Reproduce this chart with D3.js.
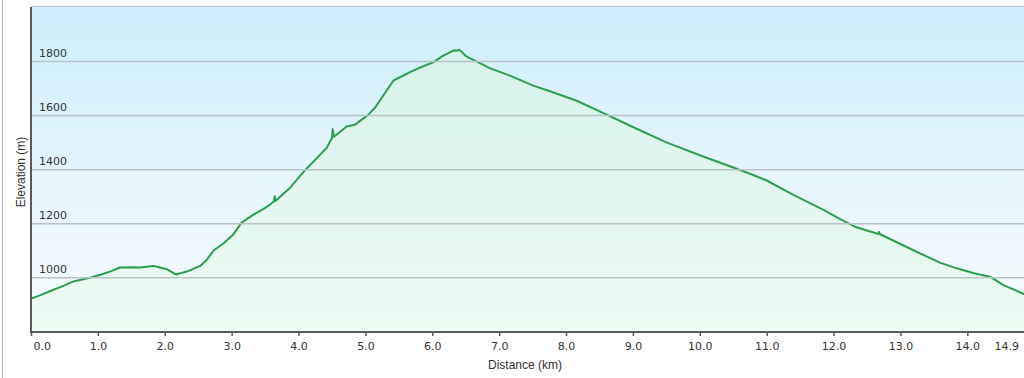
<!DOCTYPE html>
<html><head><meta charset="utf-8">
<script src="https://cdn.jsdelivr.net/npm/d3@7/dist/d3.min.js"></script>
<style>html,body{margin:0;padding:0;background:#fff;}svg{display:block;}</style>
</head><body>
<script>
const distanceKm = [0.00,0.15,0.30,0.48,0.63,0.88,1.05,1.18,1.33,1.50,1.63,1.83,1.93,2.03,2.17,2.33,2.53,2.63,2.73,2.88,3.02,3.15,3.32,3.47,3.57,3.63,3.645,3.655,3.87,4.10,4.32,4.42,4.50,4.51,4.53,4.72,4.84,5.04,5.14,5.29,5.42,5.69,5.84,6.02,6.15,6.27,6.33,6.37,6.40,6.43,6.51,6.86,7.16,7.51,7.76,8.16,8.56,9.00,9.50,10.05,10.50,10.75,11.00,11.40,11.85,12.10,12.32,12.67,12.68,12.69,13.10,13.59,13.84,14.10,14.34,14.54,14.90];
const elevationM = [920,935,950,968,984,998,1010,1021,1036,1037,1036,1042,1036,1030,1010,1021,1042,1065,1099,1126,1157,1202,1231,1252,1268,1280,1300,1282,1330,1397,1453,1478,1515,1548,1520,1558,1564,1601,1626,1681,1728,1762,1778,1796,1818,1833,1840,1838,1842,1836,1817,1774,1746,1709,1688,1653,1607,1556,1499,1447,1406,1383,1358,1305,1249,1215,1187,1160,1168,1160,1111,1054,1033,1015,1002,971,932];
const xTickValues = [0,1,2,3,4,5,6,7,8,9,10,11,12,13,14,14.9];
const yTickValues = [1000,1200,1400,1600,1800];
const xTitle = "Distance (km)";
const yTitle = "Elevation (m)";

const W = 1024, H = 378;
const pL = 31, pT = 7, pB = 331.3;
const xMax = 14.9;
const pR = pL + xMax * 66.88;

const svg = d3.select("body").append("svg").attr("width", W).attr("height", H);
const defs = svg.append("defs");
const bg = defs.append("linearGradient").attr("id","bg").attr("x1",0).attr("y1",0).attr("x2",0).attr("y2",1);
bg.append("stop").attr("offset","0%").attr("stop-color","#cdedfa");
bg.append("stop").attr("offset","55%").attr("stop-color","#e6f6fc");
bg.append("stop").attr("offset","100%").attr("stop-color","#f7fcfe");
const ag = defs.append("linearGradient").attr("id","ag").attr("gradientUnits","userSpaceOnUse")
  .attr("x1",0).attr("y1",pT).attr("x2",0).attr("y2",pB);
ag.append("stop").attr("offset","0%").attr("stop-color","#d2f1e9");
ag.append("stop").attr("offset","100%").attr("stop-color","#edfbf3");
defs.append("clipPath").attr("id","clip").append("rect")
  .attr("x",pL).attr("y",pT).attr("width",pR-pL).attr("height",pB-pT);

const x = d3.scaleLinear().domain([0, xMax]).range([pL, pR]);
const y = d3.scaleLinear().domain([800, 2000]).range([pB, pT]);

// frame
svg.append("line").attr("x1",2.5).attr("x2",2.5).attr("y1",0).attr("y2",H).attr("stroke","#b4b4b4").attr("stroke-width",1);
svg.append("line").attr("x1",pL).attr("x2",W).attr("y1",6.5).attr("y2",6.5).attr("stroke","#c4c4c4").attr("stroke-width",1.5);

// background
svg.append("rect").attr("x",pL).attr("y",pT).attr("width",W-pL).attr("height",pB-pT).attr("fill","url(#bg)");

const data = distanceKm.map((d,i)=>({d, e: elevationM[i]}));
const g = svg.append("g").attr("clip-path","url(#clip)");
g.append("path").datum(data)
  .attr("d", d3.area().x(p=>x(p.d)).y0(y(800)).y1(p=>y(p.e)))
  .attr("fill","url(#ag)");

// grid + y labels
const yAxis = svg.append("g").attr("transform",`translate(${pL},0)`)
  .call(d3.axisLeft(y).tickValues(yTickValues).tickSize(-(W-pL)).tickFormat(d3.format("d")));
yAxis.select(".domain").remove();
yAxis.selectAll(".tick line").attr("stroke","#b9c2c6").attr("stroke-width",1.5);
yAxis.selectAll(".tick text").attr("x",8).attr("dy","-0.45em").attr("text-anchor","start")
  .attr("font-family","DejaVu Sans, Verdana, sans-serif").attr("font-size",11).attr("fill","#333");

// line
g.append("path").datum(data)
  .attr("d", d3.line().x(p=>x(p.d)).y(p=>y(p.e)))
  .attr("fill","none").attr("stroke","#2c9e50").attr("stroke-width",2).attr("stroke-linejoin","round");

// x axis
const xAxis = svg.append("g").attr("transform",`translate(0,${pB+0.7})`)
  .call(d3.axisBottom(x).tickValues(xTickValues).tickSize(4).tickPadding(6).tickFormat(d3.format(".1f")));
xAxis.select(".domain").attr("d",`M${pL},0H${W}`).attr("stroke","#5a5a5a").attr("stroke-width",2);
xAxis.selectAll(".tick line").attr("stroke","#5a5a5a").attr("stroke-width",1.5);
xAxis.selectAll(".tick text").attr("font-family","DejaVu Sans, Verdana, sans-serif").attr("font-size",11).attr("fill","#333");
xAxis.selectAll(".tick").filter(d=>d===0).select("text").attr("text-anchor","start").attr("x",2);
xAxis.selectAll(".tick").filter(d=>d===14.9).select("line").remove();
xAxis.selectAll(".tick").filter(d=>d===14.9).select("text").attr("text-anchor","end").attr("x",-9);

// y axis line
svg.append("line").attr("x1",pL).attr("x2",pL).attr("y1",pT).attr("y2",pB+2)
  .attr("stroke","#5a5a5a").attr("stroke-width",2);

// titles
svg.append("text").attr("x",525).attr("y",369).attr("text-anchor","middle")
  .attr("font-family","Liberation Sans, Arial, sans-serif").attr("font-size",12).attr("fill","#333").text(xTitle);
svg.append("text").attr("transform","translate(25,172) rotate(-90)").attr("text-anchor","middle")
  .attr("font-family","Liberation Sans, Arial, sans-serif").attr("font-size",12).attr("fill","#333").text(yTitle);
</script>
</body></html>
